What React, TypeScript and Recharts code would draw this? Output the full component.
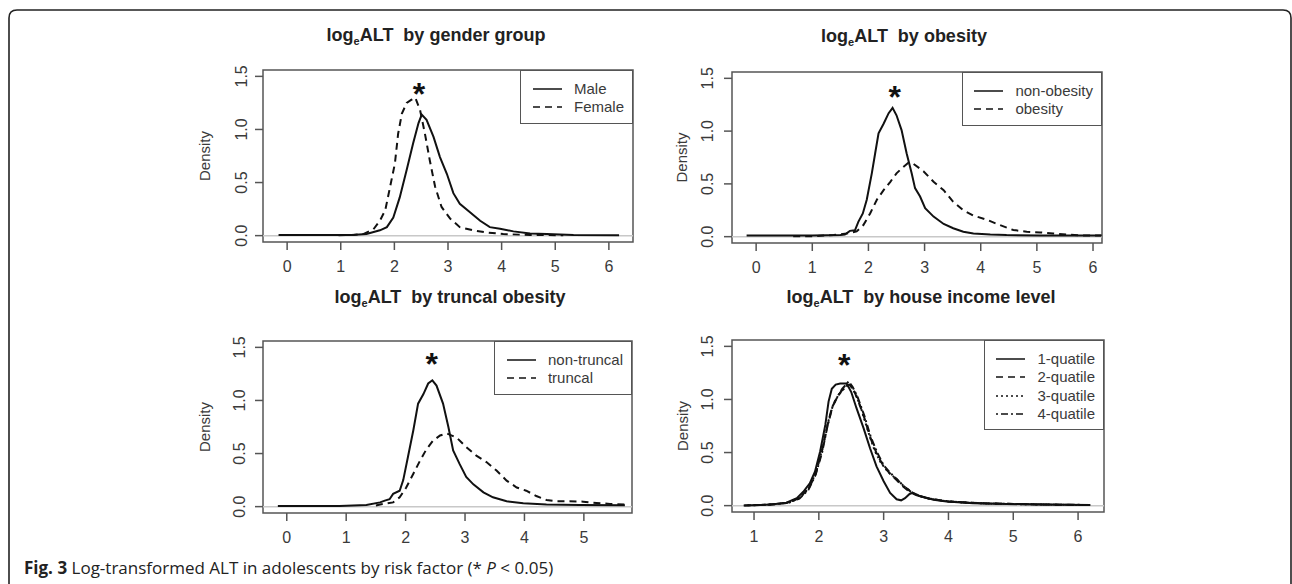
import React from 'react';
import { LineChart, Line, XAxis, YAxis, ReferenceLine, ReferenceArea, ReferenceDot, Legend } from 'recharts';

type Pt = [number, number];

// density curves, [logeALT, density]
const male: Pt[] = [
  [-0.16, 0.005], [0.5, 0.005], [0.99, 0.005], [1.2, 0.007], [1.48, 0.015], [1.73, 0.05], [1.86, 0.08],
  [1.98, 0.17], [2.1, 0.36], [2.23, 0.62], [2.35, 0.87], [2.45, 1.06], [2.51, 1.14], [2.6, 1.09],
  [2.73, 0.93], [2.85, 0.74], [2.98, 0.58], [3.1, 0.4], [3.22, 0.3], [3.41, 0.22], [3.6, 0.14],
  [3.78, 0.08], [3.97, 0.065], [4.22, 0.04], [4.53, 0.02], [4.84, 0.015], [5.34, 0.006], [6.19, 0.004],
];
const female: Pt[] = [
  [0.96, 0.004], [1.24, 0.006], [1.42, 0.015], [1.61, 0.06], [1.73, 0.14], [1.83, 0.24], [1.92, 0.46],
  [2.01, 0.68], [2.07, 0.96], [2.14, 1.15], [2.23, 1.25], [2.32, 1.28], [2.39, 1.3], [2.48, 1.18],
  [2.57, 0.96], [2.66, 0.71], [2.76, 0.46], [2.88, 0.27], [3.04, 0.16], [3.22, 0.08], [3.47, 0.05],
  [3.72, 0.03], [4.03, 0.015], [4.53, 0.006], [5.15, 0.004],
];

const nonObesity: Pt[] = [
  [-0.17, 0.01], [0.5, 0.01], [1.0, 0.01], [1.5, 0.016], [1.58, 0.02], [1.67, 0.055], [1.76, 0.06],
  [1.82, 0.14], [1.9, 0.22], [1.97, 0.35], [2.06, 0.6], [2.12, 0.79], [2.18, 0.98], [2.27, 1.07],
  [2.36, 1.17], [2.43, 1.22], [2.5, 1.15], [2.59, 1.01], [2.68, 0.79], [2.77, 0.6], [2.83, 0.46],
  [2.92, 0.38], [3.01, 0.27], [3.16, 0.19], [3.34, 0.12], [3.51, 0.08], [3.69, 0.047], [3.87, 0.03],
  [4.17, 0.02], [4.46, 0.015], [5.06, 0.012], [6.15, 0.01],
];
const obesity: Pt[] = [
  [0.66, 0.003], [1.02, 0.005], [1.38, 0.015], [1.61, 0.03], [1.79, 0.05], [1.91, 0.11], [2.03, 0.22],
  [2.15, 0.35], [2.27, 0.44], [2.39, 0.52], [2.5, 0.6], [2.62, 0.66], [2.71, 0.7], [2.8, 0.69],
  [2.98, 0.62], [3.16, 0.52], [3.34, 0.44], [3.51, 0.33], [3.69, 0.25], [3.87, 0.2], [4.11, 0.16],
  [4.34, 0.11], [4.58, 0.063], [4.82, 0.047], [5.06, 0.04], [5.29, 0.03], [5.53, 0.02], [5.77, 0.012],
  [6.15, 0.01],
];

const nonTruncal: Pt[] = [
  [-0.15, 0.005], [0.5, 0.005], [0.89, 0.006], [1.34, 0.016], [1.57, 0.04], [1.65, 0.057], [1.73, 0.07],
  [1.79, 0.12], [1.9, 0.15], [1.96, 0.25], [2.04, 0.47], [2.13, 0.72], [2.21, 0.97], [2.3, 1.06],
  [2.38, 1.16], [2.45, 1.19], [2.52, 1.14], [2.63, 0.97], [2.72, 0.75], [2.8, 0.53], [2.91, 0.4],
  [3.02, 0.28], [3.14, 0.21], [3.31, 0.135], [3.47, 0.088], [3.7, 0.05], [3.98, 0.031], [4.37, 0.019],
  [4.93, 0.016], [5.69, 0.012],
];
const truncal: Pt[] = [
  [1.5, 0.01], [1.57, 0.02], [1.79, 0.04], [1.9, 0.088], [2.01, 0.18], [2.13, 0.31], [2.24, 0.43],
  [2.35, 0.54], [2.46, 0.62], [2.58, 0.67], [2.69, 0.69], [2.86, 0.65], [3.02, 0.56], [3.19, 0.48],
  [3.36, 0.42], [3.53, 0.34], [3.7, 0.245], [3.87, 0.18], [4.03, 0.15], [4.2, 0.1], [4.37, 0.063],
  [4.54, 0.05], [4.76, 0.05], [4.99, 0.047], [5.21, 0.035], [5.44, 0.025], [5.69, 0.019],
];

const quart1: Pt[] = [
  [0.84, 0.002], [1.1, 0.005], [1.3, 0.013], [1.5, 0.028], [1.66, 0.07], [1.76, 0.13], [1.86, 0.21],
  [1.94, 0.32], [2.02, 0.51], [2.1, 0.76], [2.15, 0.98], [2.2, 1.1], [2.26, 1.14], [2.33, 1.15],
  [2.43, 1.15], [2.5, 1.07], [2.58, 0.92], [2.69, 0.73], [2.79, 0.54], [2.89, 0.37], [3.0, 0.23],
  [3.1, 0.12], [3.2, 0.06], [3.27, 0.05], [3.33, 0.07], [3.4, 0.11], [3.45, 0.12], [3.56, 0.09],
  [3.77, 0.055], [3.97, 0.04], [4.38, 0.022], [4.9, 0.016], [5.41, 0.01], [6.19, 0.006],
];
const quart2: Pt[] = [
  [0.85, 0.002], [1.2, 0.008], [1.5, 0.025], [1.7, 0.07], [1.85, 0.17], [1.95, 0.3], [2.05, 0.52],
  [2.12, 0.72], [2.2, 0.92], [2.28, 1.02], [2.35, 1.08], [2.42, 1.13], [2.47, 1.14], [2.53, 1.1],
  [2.6, 1.0], [2.7, 0.83], [2.8, 0.63], [2.9, 0.48], [3.0, 0.37], [3.1, 0.3], [3.2, 0.24], [3.3, 0.18],
  [3.4, 0.13], [3.5, 0.1], [3.7, 0.065], [4.0, 0.04], [4.5, 0.022], [5.0, 0.016], [5.5, 0.01], [6.1, 0.006],
];
const quart3: Pt[] = [
  [1.0, 0.004], [1.3, 0.012], [1.55, 0.03], [1.72, 0.08], [1.86, 0.18], [1.96, 0.32], [2.06, 0.55],
  [2.14, 0.78], [2.22, 0.95], [2.3, 1.04], [2.37, 1.09], [2.44, 1.13], [2.5, 1.12], [2.57, 1.05],
  [2.66, 0.9], [2.76, 0.7], [2.86, 0.52], [2.96, 0.4], [3.08, 0.31], [3.2, 0.25], [3.32, 0.18],
  [3.45, 0.12], [3.6, 0.08], [3.85, 0.05], [4.2, 0.03], [4.7, 0.018], [5.3, 0.012], [6.0, 0.006],
];
const quart4: Pt[] = [
  [0.9, 0.003], [1.25, 0.01], [1.5, 0.025], [1.7, 0.065], [1.84, 0.15], [1.95, 0.29], [2.05, 0.5],
  [2.13, 0.74], [2.21, 0.93], [2.29, 1.03], [2.36, 1.1], [2.42, 1.14], [2.46, 1.17], [2.52, 1.12],
  [2.6, 1.02], [2.7, 0.85], [2.8, 0.65], [2.9, 0.5], [3.0, 0.38], [3.1, 0.31], [3.2, 0.25], [3.3, 0.19],
  [3.42, 0.13], [3.55, 0.09], [3.75, 0.06], [4.0, 0.04], [4.5, 0.022], [5.0, 0.016], [5.6, 0.01], [6.2, 0.006],
];

const yTicks = [0, 0.5, 1, 1.5];
const ticks0to6 = [0, 1, 2, 3, 4, 5, 6];
const ticks0to5 = [0, 1, 2, 3, 4, 5];
const ticks1to6 = [1, 2, 3, 4, 5, 6];
const Y_DOMAIN: [number, number] = [-0.06, 1.56];

const FONT = '"Liberation Sans", Arial, sans-serif';
const INK = '#3a3a3a';
const FRAME = '#555';
const CURVE = '#111';

interface SeriesDef { name: string; points: Pt[]; dash?: string }
interface PanelDef {
  title: string;
  titleX: number;
  titleY: number;
  left: number;
  top: number;
  w: number;
  h: number;
  xDomain: [number, number];
  xTicks: number[];
  star: Pt;
  yTickGap: number;
  densityGap: number;
  series: SeriesDef[];
}

const DASH = '7 5';
const DOT = '2 3';
const DOTDASH = '2 3 7 3';

const panels: PanelDef[] = [
  {
    title: 'by gender group', titleX: 436, titleY: 41,
    left: 263, top: 70, w: 370, h: 172, xDomain: [-0.45, 6.45], xTicks: ticks0to6, star: [2.46, 1.4],
    yTickGap: 21, densityGap: 58,
    series: [{ name: 'Male', points: male }, { name: 'Female', points: female, dash: DASH }],
  },
  {
    title: 'by obesity', titleX: 904, titleY: 42,
    left: 732, top: 72, w: 370, h: 171, xDomain: [-0.43, 6.16], xTicks: ticks0to6, star: [2.47, 1.39],
    yTickGap: 24, densityGap: 50,
    series: [{ name: 'non-obesity', points: nonObesity }, { name: 'obesity', points: obesity, dash: DASH }],
  },
  {
    title: 'by truncal obesity', titleX: 450, titleY: 303,
    left: 263, top: 341, w: 369, h: 172, xDomain: [-0.4, 5.81], xTicks: ticks0to5, star: [2.44, 1.41],
    yTickGap: 23, densityGap: 58,
    series: [{ name: 'non-truncal', points: nonTruncal }, { name: 'truncal', points: truncal, dash: DASH }],
  },
  {
    title: 'by house income level', titleX: 921, titleY: 303,
    left: 732, top: 340, w: 372, h: 172, xDomain: [0.66, 6.4], xTicks: ticks1to6, star: [2.39, 1.39],
    yTickGap: 24, densityGap: 49,
    series: [
      { name: '1-quatile', points: quart1 },
      { name: '2-quatile', points: quart2, dash: DASH },
      { name: '3-quatile', points: quart3, dash: DOT },
      { name: '4-quatile', points: quart4, dash: DOTDASH },
    ],
  },
];

const toRows = (pts: Pt[]) => pts.map(([x, y]) => ({ x, y }));

function XTick(props: any) {
  const { x, y, payload } = props;
  return (
    <text x={x} y={y + 16} textAnchor="middle" dominantBaseline="central" fill={INK} fontSize={16} fontFamily={FONT}>
      {payload.value}
    </text>
  );
}

function makeYTick(gap: number) {
  return (props: any) => {
    const { x, y, payload } = props;
    const cx = x - (gap - 8);
    return (
      <text x={cx} y={y} textAnchor="middle" dominantBaseline="central" fill={INK} fontSize={16} fontFamily={FONT}
        transform={`rotate(-90, ${cx}, ${y})`}>
        {payload.value.toFixed(1)}
      </text>
    );
  };
}

function Star(props: any) {
  const { cx, cy } = props;
  return (
    <text x={cx} y={cy + 18} textAnchor="middle" fontSize={32} fontWeight="bold" fontFamily={FONT} fill={CURVE}>*</text>
  );
}

function LegendBox({ series }: { series: SeriesDef[] }) {
  return (
    <div style={{
      border: `1.5px solid ${FRAME}`, background: '#fff', padding: '9px 8px 6px 11.5px',
      fontFamily: FONT, fontSize: 15, color: INK, lineHeight: '18.3px', whiteSpace: 'nowrap',
    }}>
      {series.map((s) => (
        <div key={s.name} style={{ display: 'flex', alignItems: 'center', height: 18.3 }}>
          <svg width={29} height={6} style={{ marginRight: 12, flex: 'none' }}>
            <line x1={0} y1={3} x2={29} y2={3} stroke={CURVE} strokeWidth={1.5} strokeDasharray={s.dash} />
          </svg>
          <span>{s.name}</span>
        </div>
      ))}
    </div>
  );
}

function Panel({ p }: { p: PanelDef }) {
  const W = p.w + 90;
  const H = p.h + 60;
  return (
    <div style={{ position: 'absolute', left: p.left - 80, top: p.top - 10 }}>
      <LineChart width={W} height={H} margin={{ top: 10, right: 10, bottom: 10, left: 10 }}>
        <XAxis type="number" dataKey="x" domain={p.xDomain} ticks={p.xTicks} interval={0} allowDataOverflow
          height={40} tickSize={8} tickMargin={0} axisLine={false}
          tickLine={{ stroke: FRAME, strokeWidth: 1.5 }} tick={<XTick />} />
        <YAxis type="number" dataKey="y" domain={Y_DOMAIN} ticks={yTicks} interval={0} allowDataOverflow
          width={70} tickSize={8} tickMargin={0} axisLine={false}
          tickLine={{ stroke: FRAME, strokeWidth: 1.5 }} tick={makeYTick(p.yTickGap)}
          label={{ value: 'Density', angle: -90, position: 'center', dx: 35 - p.densityGap, fill: INK, fontSize: 15, fontFamily: FONT }} />
        <ReferenceLine y={0} stroke="#c8c8c8" strokeWidth={1.5} />
        {p.series.map((s) => (
          <Line key={s.name} name={s.name} data={toRows(s.points)} dataKey="y" type="linear"
            stroke={CURVE} strokeWidth={2} strokeDasharray={s.dash}
            dot={false} activeDot={false} isAnimationActive={false} />
        ))}
        <ReferenceArea x1={p.xDomain[0]} x2={p.xDomain[1]} y1={Y_DOMAIN[0]} y2={Y_DOMAIN[1]}
          fill="none" stroke={FRAME} strokeWidth={1.5} ifOverflow="visible" />
        <ReferenceDot x={p.star[0]} y={p.star[1]} r={0} shape={Star} />
        <Legend layout="horizontal" verticalAlign="middle" align="center"
          wrapperStyle={{ top: 10, right: 10, left: 'auto', width: 'auto', height: 'auto' }}
          content={() => <LegendBox series={p.series} />} />
      </LineChart>
    </div>
  );
}

export default function App() {
  return (
    <div style={{ position: 'absolute', left: 0, top: 0, width: 1292, height: 584, background: '#fff', overflow: 'hidden' }}>
      <svg width={1292} height={584} style={{ position: 'absolute', left: 0, top: 0 }}>
        <path d="M 9 600 L 9 18 Q 9 10 17 10 L 1283 10 Q 1291 10 1291 18 L 1291 600" fill="none" stroke="#222" strokeWidth={1.6} />
        {panels.map((p) => (
          <text key={p.title} x={p.titleX} y={p.titleY} textAnchor="middle" fontFamily={FONT} fontWeight="bold"
            fontSize={18} fill="#222" style={{ whiteSpace: 'pre' }}>
            <tspan>log</tspan>
            <tspan dy={4} fontSize={11}>e</tspan>
            <tspan dy={-4}>{'ALT  ' + p.title}</tspan>
          </text>
        ))}
        <text x={24} y={574} fontFamily='"Open Sans", sans-serif' fontSize={17} fill="#222" style={{ whiteSpace: 'pre' }}>
          <tspan fontWeight="bold">Fig. 3</tspan>
          <tspan> Log-transformed ALT in adolescents by risk factor (* </tspan>
          <tspan fontStyle="italic">P</tspan>
          <tspan> &lt; 0.05)</tspan>
        </text>
      </svg>
      {panels.map((p) => <Panel key={p.title} p={p} />)}
    </div>
  );
}
